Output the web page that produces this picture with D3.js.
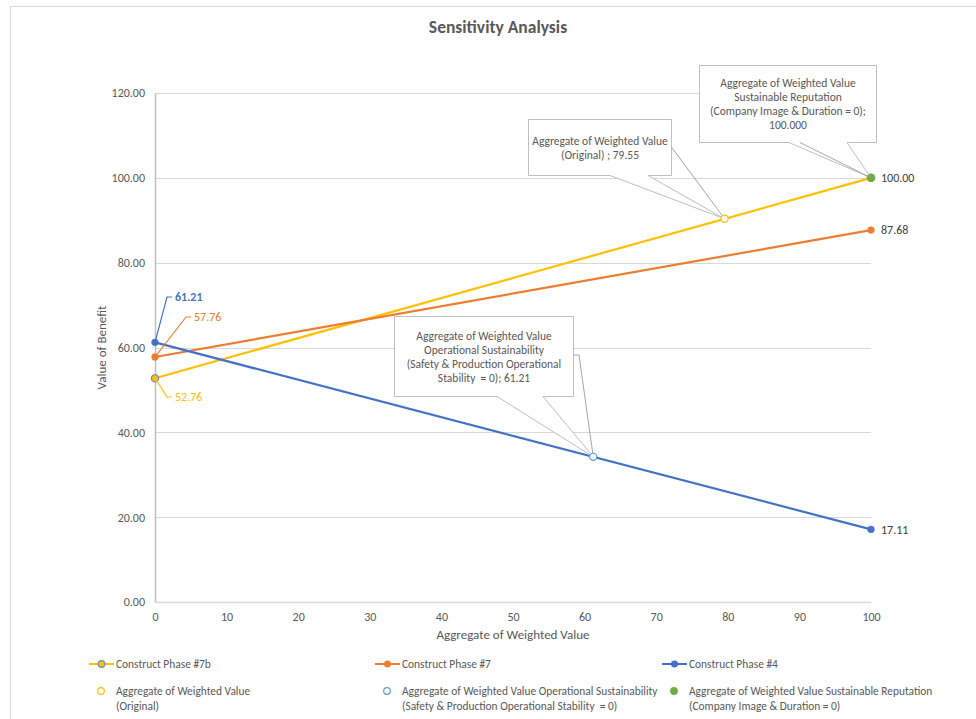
<!DOCTYPE html>
<html><head><meta charset="utf-8">
<script src="https://cdn.jsdelivr.net/npm/d3@7"></script>
<style>
body{margin:0;background:#fff;}
svg text{font-family:Carlito,Calibri,Lato,"Open Sans",sans-serif;white-space:pre;}
</style></head>
<body><svg id="c" width="976" height="719"></svg>
<script>
// ---- data ----
const xTicks = [0,10,20,30,40,50,60,70,80,90,100];
const yTicks = [0,20,40,60,80,100,120];
const seriesNames = ["Construct Phase #7b","Construct Phase #7","Construct Phase #4"];
const seriesX = [0,100];
const phase7b = [52.76,100.00];
const phase7 = [57.76,87.68];
const phase4 = [61.21,17.11];
const seriesColors = ["#FFC000","#ED7D31","#4472C4"];
const pointNames = ["Aggregate of Weighted Value (Original)",
  "Aggregate of Weighted Value Operational Sustainability (Safety & Production Operational Stability  = 0)",
  "Aggregate of Weighted Value Sustainable Reputation (Company Image & Duration = 0)"];
const pointX = [79.55,61.21,100];
const pointY = [90.34,34.22,100];
const calloutText = [
  ["Aggregate of Weighted Value","(Original) ; 79.55"],
  ["Aggregate of Weighted Value","Operational Sustainability","(Safety & Production Operational","Stability  = 0); 61.21"],
  ["Aggregate of Weighted Value","Sustainable Reputation","(Company Image & Duration = 0);","100.000"]
];
const legendLines = [
  ["Construct Phase #7b"],["Construct Phase #7"],["Construct Phase #4"],
  ["Aggregate of Weighted Value","(Original)"],
  ["Aggregate of Weighted Value Operational Sustainability","(Safety & Production Operational Stability  = 0)"],
  ["Aggregate of Weighted Value Sustainable Reputation","(Company Image & Duration = 0)"]
];

// ---- layout ----
const svg = d3.select("#c");
const L=155,R=871,T=93,B=602;
const x = d3.scaleLinear().domain([0,100]).range([L,R]);
const y = d3.scaleLinear().domain([0,120]).range([B,T]);
const txt="#595959";

svg.append("rect").attr("x",10.5).attr("y",6.5).attr("width",980).attr("height",730)
  .attr("fill","#fff").attr("stroke","#d9d9d9");

svg.append("text").attr("x",498).attr("y",33).attr("text-anchor","middle")
  .attr("font-size",17.5).attr("font-weight","bold").attr("fill",txt).text("Sensitivity Analysis");

// grid
svg.append("g").selectAll("line").data(yTicks.filter(d=>d>0)).join("line")
  .attr("x1",L).attr("x2",R).attr("y1",d=>Math.round(y(d))+0.5).attr("y2",d=>Math.round(y(d))+0.5)
  .attr("stroke","#d9d9d9");

// axes
const yAxis = svg.append("g").attr("transform",`translate(${L},0)`)
  .call(d3.axisLeft(y).tickValues(yTicks).tickFormat(d3.format(".2f")).tickSize(0).tickPadding(10));
yAxis.select(".domain").attr("stroke","#bfbfbf").attr("stroke-width",1.5);
yAxis.selectAll("text").attr("fill",txt).attr("font-size",12);
const xAxis = svg.append("g").attr("transform",`translate(0,${B})`)
  .call(d3.axisBottom(x).tickValues(xTicks).tickSize(0).tickPadding(10));
xAxis.select(".domain").attr("stroke","#d9d9d9").attr("stroke-width",1.5);
xAxis.selectAll("text").attr("fill",txt).attr("font-size",12);

svg.append("text").attr("x",(L+R)/2).attr("y",639).attr("text-anchor","middle")
  .attr("font-size",13).attr("fill",txt).text("Aggregate of Weighted Value");
svg.append("text").attr("transform",`translate(106,${(T+B)/2}) rotate(-90)`).attr("text-anchor","middle")
  .attr("font-size",13).attr("fill",txt).text("Value of Benefit");

// series
const allSeries=[phase7b,phase7,phase4];
const line=d3.line().x(d=>x(d[0])).y(d=>y(d[1]));
allSeries.forEach((s,i)=>{
  const pts=seriesX.map((v,j)=>[v,s[j]]);
  svg.append("path").attr("d",line(pts)).attr("fill","none").attr("stroke",seriesColors[i]).attr("stroke-width",2.2);
});
allSeries.forEach((s,i)=>{
  svg.append("g").selectAll("circle").data(seriesX.map((v,j)=>[v,s[j]])).join("circle")
    .attr("cx",d=>x(d[0])).attr("cy",d=>y(d[1])).attr("r",i==0?3.6:3.4)
    .attr("fill",seriesColors[i]).attr("stroke",i==0?"#7a8fb5":seriesColors[i]).attr("stroke-width",i==0?1.3:0.5);
});

// callouts
function callout(idx,box,base,extra){
  const px=x(pointX[idx]),py=y(pointY[idx]);
  const g=svg.append("g");
  const [bx,by,bw,bh]=box;
  g.append("path").attr("d",`M${bx},${by}H${bx+bw}V${by+bh}H${base[1]}L${px},${py}L${base[0]},${by+bh}H${bx}Z`)
    .attr("fill","#fff").attr("stroke","#bfbfbf").attr("stroke-width",1);
  extra.forEach(e=>g.append("path").attr("d",`M${e[0]},${e[1]}`+(e.length>2?`L${e[2]},${e[3]}`:"")+`L${px},${py}`)
    .attr("fill","none").attr("stroke","#a6a6a6").attr("stroke-width",1));
  const lines=calloutText[idx];
  const lh=14, cy0=by+bh/2-(lines.length-1)*lh/2;
  lines.forEach((t,k)=>g.append("text").attr("x",bx+bw/2).attr("y",cy0+k*lh).attr("dy","0.35em")
    .attr("text-anchor","middle").attr("font-size",11.5).attr("fill",txt).text(t));
}
callout(0,[528.5,119.5,143,56],[610,648],[[671.5,147]]);
callout(1,[394.5,316.5,179,80],[497,543],[[573.5,355,579,355]]);
callout(2,[699.5,65.5,177,77],[789,847],[[800,142.5]]);

// special points
const ptFill=["#fff","#fff","#70AD47"], ptStroke=["#FFC000","#5B9BD5","#70AD47"];
svg.append("g").selectAll("circle").data(pointX.map((v,i)=>[v,pointY[i],i])).join("circle")
  .attr("cx",d=>x(d[0])).attr("cy",d=>y(d[1])).attr("r",3.6)
  .attr("fill",d=>ptFill[d[2]]).attr("stroke",d=>ptStroke[d[2]]).attr("stroke-width",1.2);

// left data labels with leader lines
const leftLbl=[[phase7b[0],175,397,"#FFC000",false],[phase7[0],194,317,"#ED7D31",false],[phase4[0],175,297,"#4472C4",true]];
leftLbl.forEach(([v,tx,ty,c,b])=>{
  svg.append("path").attr("d",`M${x(0)},${y(v)}L${tx-8},${ty}H${tx-3}`).attr("fill","none").attr("stroke",c).attr("stroke-width",1.2);
  svg.append("text").attr("x",tx).attr("y",ty).attr("dy","0.35em").attr("font-size",12)
    .attr("font-weight",b?"bold":"normal").attr("fill",c).text(v.toFixed(2));
});
// right data labels
[phase7b[1],phase7[1],phase4[1]].forEach(v=>{
  svg.append("text").attr("x",x(100)+10).attr("y",y(v)).attr("dy","0.35em").attr("font-size",12)
    .attr("fill","#404040").text(v.toFixed(2));
});

// legend
const legX=[89,375,662];
legendLines.forEach((ls,i)=>{
  const col=i%3,row=Math.floor(i/3);
  const lx=legX[col], ly=row==0?664:691;
  const g=svg.append("g");
  if(row==0){
    g.append("line").attr("x1",lx).attr("x2",lx+25).attr("y1",ly).attr("y2",ly).attr("stroke",seriesColors[col]).attr("stroke-width",2);
    g.append("circle").attr("cx",lx+12.5).attr("cy",ly).attr("r",3.3).attr("fill",seriesColors[col])
      .attr("stroke",col==0?"#7a8fb5":seriesColors[col]).attr("stroke-width",col==0?1.2:0.5);
  } else {
    g.append("circle").attr("cx",lx+12).attr("cy",ly).attr("r",3.3).attr("fill",ptFill[col]).attr("stroke",ptStroke[col]).attr("stroke-width",1.2);
  }
  ls.forEach((t,k)=>g.append("text").attr("x",lx+27).attr("y",ly+k*15).attr("dy","0.35em")
    .attr("font-size",11.4).attr("fill",txt).text(t));
});
</script></body></html>
